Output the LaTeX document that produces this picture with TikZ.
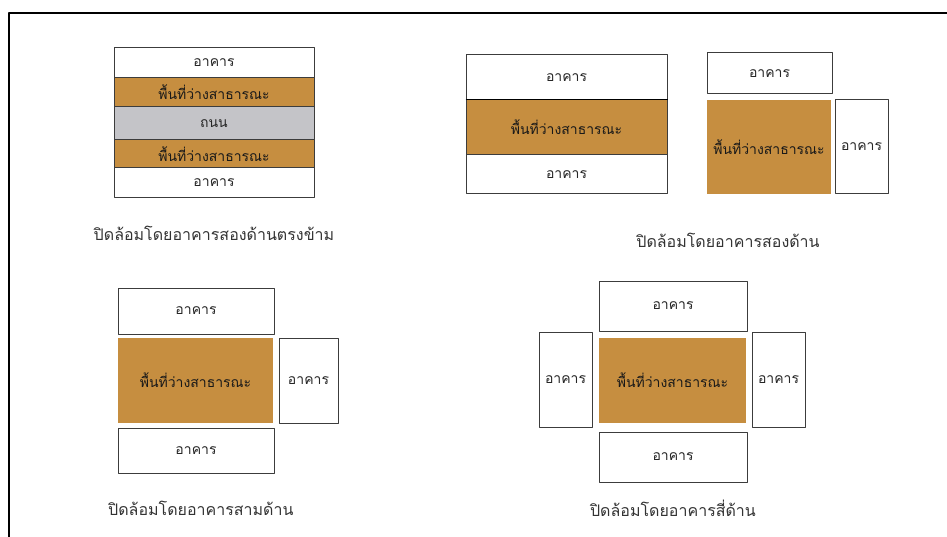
\documentclass[tikz,border=0pt]{standalone}
\usepackage{fontspec}
\setmainfont[Script=Thai]{Loma}
\usetikzlibrary{positioning}
\definecolor{parkbrown}{RGB}{198,142,64}
\definecolor{roadgray}{RGB}{196,196,200}
\definecolor{edgegray}{RGB}{60,60,60}
\tikzset{
  bldg/.style={draw=edgegray,line width=1pt,fill=white,inner sep=0pt,text=black!85,font=\fontsize{14}{16}\selectfont},
  park/.style={fill=parkbrown,inner sep=0pt,text=black!90,font=\fontsize{14}{16}\selectfont},
  road/.style={draw=edgegray,line width=1pt,fill=roadgray,inner sep=0pt,text=black!85,font=\fontsize{14}{16}\selectfont},
  caption/.style={inner sep=0pt,text=black!80,font=\fontsize{16}{18}\selectfont}
}
\begin{document}
\begin{tikzpicture}[x=1pt,y=-1pt,line join=round]
\useasboundingbox (0,0) rectangle (947,537);
% frame
\draw[line width=1.2pt] (9,537) -- (9,13) -- (947,13);
% two opposite sides
\node[bldg,minimum width=200,minimum height=30] (a1) at (214,63) {อาคาร};
\node[park,draw=edgegray,line width=1pt,minimum width=200,minimum height=29] (a2) at (214,92.5) {พื้นที่ว่างสาธารณะ};
\node[road,minimum width=200,minimum height=33] (a3) at (214,123.5) {ถนน};
\node[park,draw=edgegray,line width=1pt,minimum width=200,minimum height=28] (a4) at (214,154) {พื้นที่ว่างสาธารณะ};
\node[bldg,minimum width=200,minimum height=30] (a5) at (214,183) {อาคาร};
\node[caption] (capa) at (214,233) {ปิดล้อมโดยอาคารสองด้านตรงข้าม};
% two sides
\node[bldg,minimum width=201,minimum height=45] (b1) at (566.5,77.5) {อาคาร};
\node[park,draw=edgegray,line width=1pt,minimum width=201,minimum height=55] (b2) at (566.5,127.5) {พื้นที่ว่างสาธารณะ};
\node[bldg,minimum width=201,minimum height=39] (b3) at (566.5,174.5) {อาคาร};
\draw[line width=1.6pt,black] (b2.north west) -- (b2.north east);
\node[bldg,minimum width=125,minimum height=41] (c1) at (769.5,73.5) {อาคาร};
\node[park,minimum width=124,minimum height=94] (c2) at (769,147) {พื้นที่ว่างสาธารณะ};
\node[bldg,minimum width=53,minimum height=94] (c3) at (861.5,147) {อาคาร};
\node[caption] (capb) at (728,240) {ปิดล้อมโดยอาคารสองด้าน};
% three sides
\node[bldg,minimum width=156,minimum height=46] (d1) at (196,311) {อาคาร};
\node[park,minimum width=155,minimum height=85] (d2) at (195.5,380.5) {พื้นที่ว่างสาธารณะ};
\node[bldg,minimum width=59,minimum height=85] (d3) at (308.5,380.5) {อาคาร};
\node[bldg,minimum width=156,minimum height=45] (d4) at (196,450.5) {อาคาร};
\node[caption,anchor=west] (capc) at (108,508) {ปิดล้อมโดยอาคารสามด้าน};
% four sides
\node[bldg,minimum width=148,minimum height=50] (e1) at (673,306) {อาคาร};
\node[bldg,minimum width=53,minimum height=95] (e2) at (565.5,379.5) {อาคาร};
\node[park,minimum width=147,minimum height=85] (e3) at (672.5,380.5) {พื้นที่ว่างสาธารณะ};
\node[bldg,minimum width=53,minimum height=95] (e4) at (778.5,379.5) {อาคาร};
\node[bldg,minimum width=148,minimum height=50] (e5) at (673,457) {อาคาร};
\node[caption] (capd) at (673,508) {ปิดล้อมโดยอาคารสี่ด้าน};
\end{tikzpicture}
\end{document}
